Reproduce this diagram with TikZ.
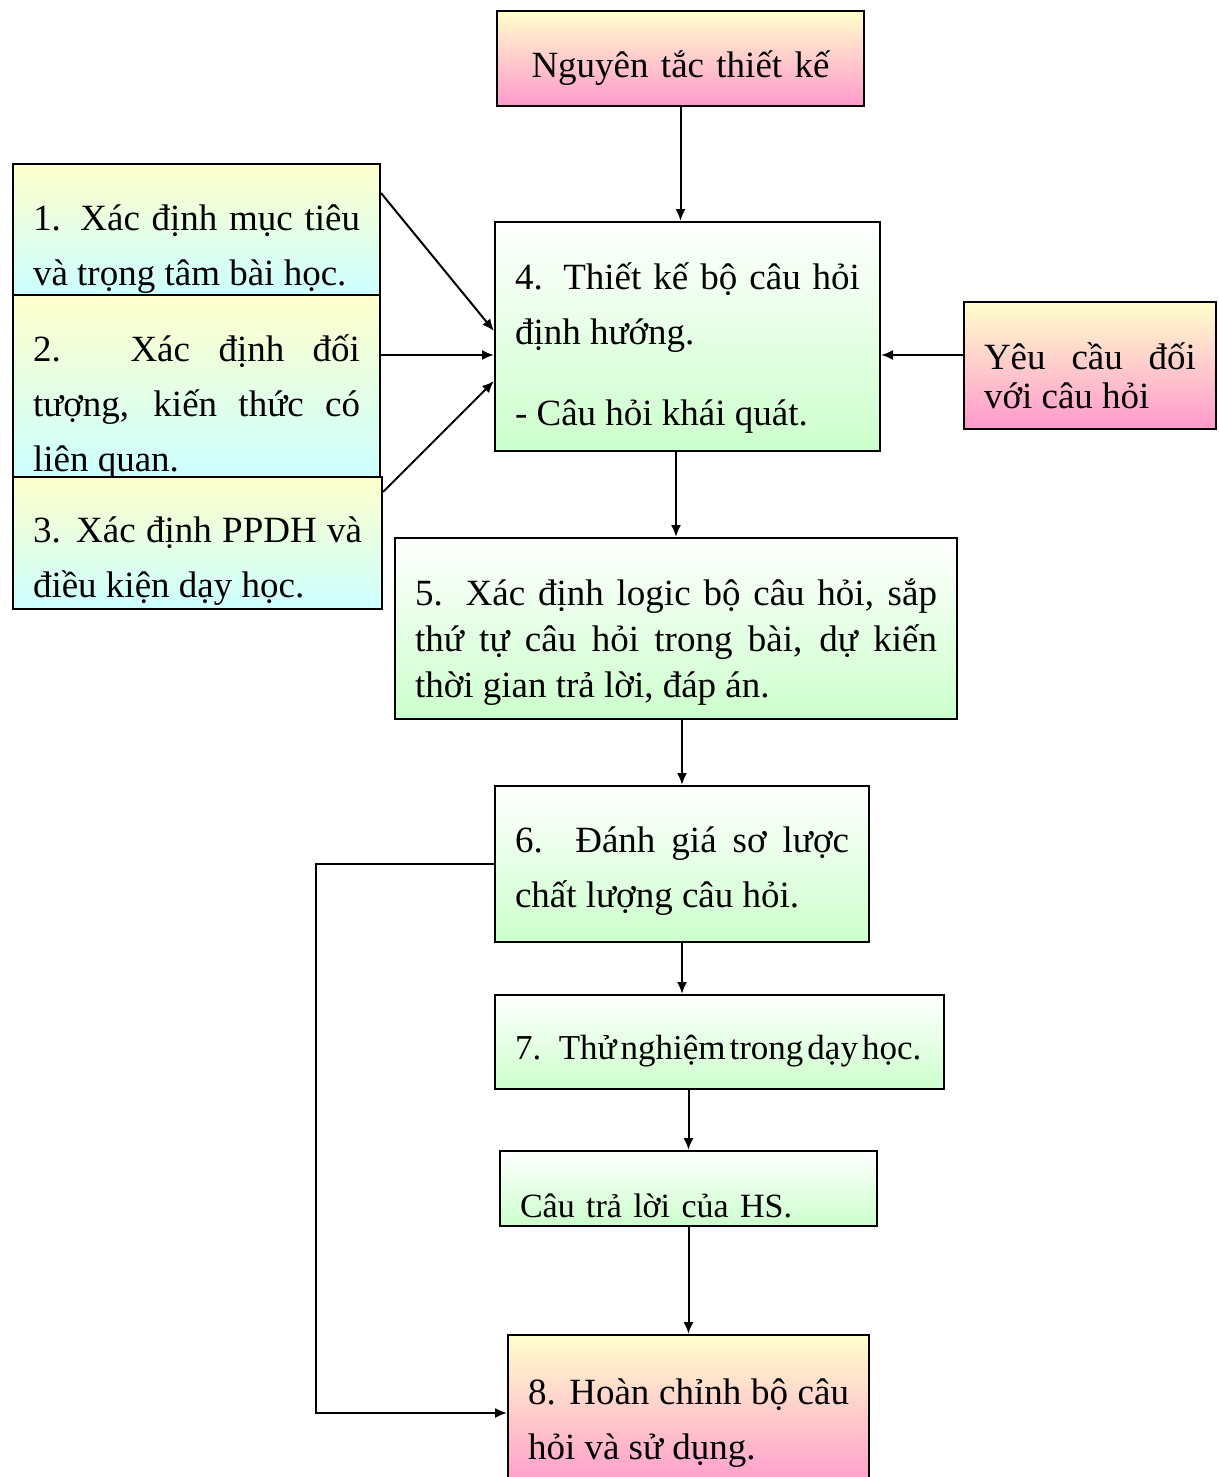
\documentclass[tikz,border=0pt]{standalone}
\usepackage{fontspec}
\setmainfont{Liberation Serif}
\usetikzlibrary{arrows.meta,calc}
\definecolor{paleyellow}{RGB}{255,255,204}
\definecolor{softpink}{RGB}{255,153,204}
\definecolor{palecyan}{RGB}{204,255,255}
\definecolor{palegreen}{RGB}{204,255,204}

\begin{document}
\begin{tikzpicture}[x=0.5pt, y=-0.5pt,
    card/.style={rectangle, draw=black, line width=1pt, anchor=north west,
                 inner xsep=10pt, inner ysep=4pt, align=justify,
                 font=\fontsize{18.5}{27.5}\selectfont},
    rosecard/.style={card, top color=paleyellow, bottom color=softpink},
    skycard/.style={card, top color=paleyellow, bottom color=palecyan},
    leafcard/.style={card, top color=white, bottom color=palegreen},
    link/.style={line width=1pt, -{Latex[length=6pt,width=5pt]}}
]
    \useasboundingbox (0,0) rectangle (1219,1477);
    \clip (0,0) rectangle (1219,1477);

    % top and left column
    \node[rosecard, align=center, text width=163.5pt, minimum height=47.5pt, text height=20pt, text depth=0.5pt] (rule) at (496,10) {Nguyên tắc thiết kế};
    \node[skycard, text width=163.5pt, minimum height=65.5pt, text height=17pt, text depth=16.5pt] (goal) at (12,163) {1. Xác định mục tiêu\linebreak và trọng tâm bài học.};
    \node[skycard, text width=163.5pt, minimum height=91pt, text height=17pt, text depth=42pt] (learner) at (12,294) {2. Xác định đối\linebreak tượng, kiến thức có\linebreak liên quan.};
    \node[skycard, text width=164.5pt, minimum height=66pt, text height=17pt, text depth=18pt] (method) at (12,476) {3. Xác định PPDH và\linebreak điều kiện dạy học.};

    % main column
    \node[leafcard, text width=172.5pt, minimum height=114.5pt, text height=17pt, text depth=64.5pt] (design) at (494,221) {4. Thiết kế bộ câu hỏi\linebreak định hướng.\\[13pt]- Câu hỏi khái quát.};
    \node[rosecard, text width=106pt, minimum height=63.5pt, text height=17pt, text depth=13.5pt, font=\fontsize{18.5}{19.5}\selectfont] (demand) at (963,301) {Yêu cầu đối\linebreak với câu hỏi};
    \node[leafcard, text width=261pt, minimum height=90.5pt, text height=17pt, text depth=40pt, font=\fontsize{18.5}{23}\selectfont] (logic) at (394,537) {5. Xác định logic bộ câu hỏi, sắp\linebreak thứ tự câu hỏi trong bài, dự kiến\linebreak thời gian trả lời, đáp án.};
    \node[leafcard, text width=167pt, minimum height=78pt, text height=17pt, text depth=29pt] (check) at (494,785) {6. Đánh giá sơ lược\linebreak chất lượng câu hỏi.};
    \node[leafcard, align=left, text width=204.5pt, minimum height=47pt, text height=17pt, text depth=0pt, font=\fontsize{17.5}{20}\selectfont] (trial) at (494,994) {\spaceskip=2pt plus 1pt 7. Thử nghiệm trong dạy học.};
    \node[leafcard, align=left, text width=168.5pt, minimum height=37.5pt, text height=29pt, text depth=0.5pt, font=\fontsize{17}{20}\selectfont] (answer) at (499,1150) {Câu trả lời của HS.};
    \node[rosecard, text width=160.5pt, minimum height=78pt, text height=17pt, text depth=26pt] (final) at (507,1334) {8. Hoàn chỉnh bộ câu\linebreak hỏi và sử dụng.};

    % arrow ends on box 4
    \coordinate (inGoal) at ([yshift=2.75pt]design.west);
    \coordinate (inLearner) at ([yshift=-9.25pt]design.west);
    \coordinate (inMethod) at ([yshift=-22.25pt]design.west);
    \coordinate (inDemand) at ([yshift=-9.25pt]design.east);
    \coordinate (loop) at (316,0);

    \draw[link] (rule.south) -- (rule.south |- design.north);
    \draw[link] ([yshift=-15pt]goal.north east) -- (inGoal);
    \draw[link] (learner.east |- inLearner) -- (inLearner);
    \draw[link] ([yshift=-8pt]method.north east) -- (inMethod);
    \draw[link] (demand.west |- inDemand) -- (inDemand);
    \draw[link] (design.south -| logic.north) -- (logic.north);
    \draw[link] (check.north |- logic.south) -- (check.north);
    \draw[link] (check.south) -- (check.south |- trial.north);
    \draw[link] (answer.north |- trial.south) -- (answer.north);
    \draw[link] (answer.south) -- (answer.south |- final.north);
    % feedback from step 6 to step 8
    \draw[link] (check.west) -- (loop |- check.west) |- (final.west);
\end{tikzpicture}
\end{document}
